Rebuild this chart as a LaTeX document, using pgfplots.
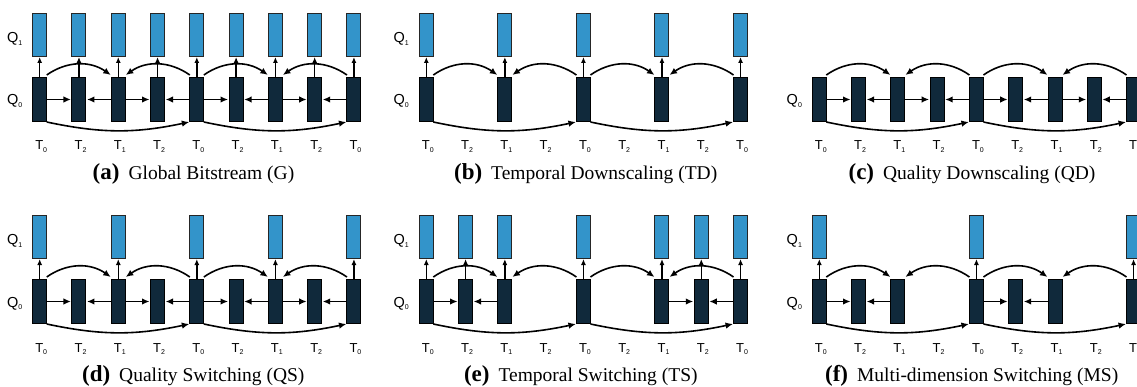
\documentclass[border=0pt]{standalone}
\usepackage{pgfplots}
\pgfplotsset{compat=1.18}
\usetikzlibrary{arrows.meta}
\usepackage{fontspec}
\setmainfont{Liberation Serif}
\newfontfamily\arial{Liberation Sans}
\definecolor{qone}{RGB}{51,148,202}
\definecolor{qzero}{RGB}{16,41,59}

\pgfdeclareplotmark{barQ0}{\pgfpathrectangle{\pgfqpoint{-7pt}{-22pt}}{\pgfqpoint{14pt}{44pt}}\pgfusepathqfillstroke}
\pgfdeclareplotmark{barQ1}{\pgfpathrectangle{\pgfqpoint{-7pt}{-21.5pt}}{\pgfqpoint{14pt}{43pt}}\pgfusepathqfillstroke}

\tikzset{arr/.style={line width=1.6pt, -{Latex[length=7.5pt,width=6.5pt]}}}

\newcommand\rarr[2]{\draw[arr] ([xshift=7pt]axis cs:#1,0) -- ([xshift=-8pt]axis cs:#2,0);}
\newcommand\larr[2]{\draw[arr] ([xshift=-7pt]axis cs:#1,0) -- ([xshift=8pt]axis cs:#2,0);}
\newcommand\uarcR[2]{\draw[arr] ([xshift=7pt,yshift=24.5pt]axis cs:#1,0) to[out=35,in=145] ([xshift=-7.5pt,yshift=24.5pt]axis cs:#2,0);}
\newcommand\uarcL[2]{\draw[arr] ([xshift=-7pt,yshift=24.5pt]axis cs:#1,0) to[out=145,in=35] ([xshift=7.5pt,yshift=24.5pt]axis cs:#2,0);}
\newcommand\darc[2]{\draw[arr] ([xshift=7pt,yshift=-22.5pt]axis cs:#1,0) to[out=-12,in=192] ([xshift=-7.5pt,yshift=-22.5pt]axis cs:#2,0);}
\newcommand\sub[1]{\raisebox{-2.4pt}{\fontsize{7}{7}\selectfont #1}}
\newcommand\Tlab[2]{\node[anchor=base,font=\arial\fontsize{13}{13}\selectfont] at ([xshift=1.5pt,yshift=-50.5pt]axis cs:#1,0) {T\sub{#2}};}
\newcommand\Tall{\Tlab{0}{0}\Tlab{1}{2}\Tlab{2}{1}\Tlab{3}{2}\Tlab{4}{0}\Tlab{5}{2}\Tlab{6}{1}\Tlab{7}{2}\Tlab{8}{0}}
\newcommand\Qzero{\node[anchor=base,font=\arial\fontsize{14.5}{14.5}\selectfont] at ([xshift=-25pt,yshift=-5.5pt]axis cs:0,0) {Q\sub{0}};}
\newcommand\Qone{\node[anchor=base,font=\arial\fontsize{14.5}{14.5}\selectfont] at ([xshift=-25pt,yshift=56.5pt]axis cs:0,0) {Q\sub{1}};}
\newcommand\arcs{\uarcR{0}{2}\uarcL{4}{2}\uarcR{4}{6}\uarcL{8}{6}\darc{0}{4}\darc{4}{8}}
\newcommand\capt[2]{{\fontsize{23}{26}\selectfont\bfseries (#1)}\hspace{9pt}{\fontsize{19.5}{22}\selectfont #2}}

\pgfplotsset{panel/.style={x=39.28pt, y=1pt, xmin=-1, xmax=9, ymin=-70, ymax=100,
  hide axis, clip=false, anchor=origin},
  qzerobars/.style={only marks, mark=barQ0, mark options={fill=qzero, draw=black, line width=1pt}},
  qonebars/.style={only marks, mark=barQ1, mark options={fill=qone, draw=black!85, line width=1pt}},
  uparr/.style={line width=1.5pt, -{Latex[length=6pt,width=5pt]}, quiver={u=0, v=20.5}}}

\begin{document}
\begin{tikzpicture}[x=1pt,y=1pt]
\useasboundingbox (0pt,0pt) rectangle (1137pt,386pt);
\clip (0pt,0pt) rectangle (1137pt,386pt);

% (a) Global Bitstream
\begin{axis}[panel, at={(39.7pt,286.5pt)}]
\addplot[uparr] coordinates {(0,22) (1,22) (2,22) (3,22) (4,22) (5,22) (6,22) (7,22) (8,22)};
\rarr{0}{1}\larr{2}{1}\rarr{2}{3}\larr{4}{3}\rarr{4}{5}\larr{6}{5}\rarr{6}{7}\larr{8}{7}
\arcs
\addplot[qzerobars] coordinates {(0,0) (1,0) (2,0) (3,0) (4,0) (5,0) (6,0) (7,0) (8,0)};
\addplot[qonebars] coordinates {(0,64) (1,64) (2,64) (3,64) (4,64) (5,64) (6,64) (7,64) (8,64)};
\Tall\Qzero\Qone
\end{axis}

% (b) Temporal Downscaling
\begin{axis}[panel, at={(426.3pt,286.5pt)}]
\addplot[uparr] coordinates {(0,22) (2,22) (4,22) (6,22) (8,22)};
\arcs
\addplot[qzerobars] coordinates {(0,0) (2,0) (4,0) (6,0) (8,0)};
\addplot[qonebars] coordinates {(0,64) (2,64) (4,64) (6,64) (8,64)};
\Tall\Qzero\Qone
\end{axis}

% (c) Quality Downscaling
\begin{axis}[panel, at={(819.3pt,286.5pt)}]
\rarr{0}{1}\larr{2}{1}\rarr{2}{3}\larr{4}{3}\rarr{4}{5}\larr{6}{5}\rarr{6}{7}\larr{8}{7}
\arcs
\addplot[qzerobars] coordinates {(0,0) (1,0) (2,0) (3,0) (4,0) (5,0) (6,0) (7,0) (8,0)};
\Tall\Qzero
\end{axis}

% (d) Quality Switching
\begin{axis}[panel, at={(39.7pt,84.5pt)}]
\addplot[uparr] coordinates {(0,22) (2,22) (4,22) (6,22) (8,22)};
\rarr{0}{1}\larr{2}{1}\rarr{2}{3}\larr{4}{3}\rarr{4}{5}\larr{6}{5}\rarr{6}{7}\larr{8}{7}
\arcs
\addplot[qzerobars] coordinates {(0,0) (1,0) (2,0) (3,0) (4,0) (5,0) (6,0) (7,0) (8,0)};
\addplot[qonebars] coordinates {(0,64) (2,64) (4,64) (6,64) (8,64)};
\Tall\Qzero\Qone
\end{axis}

% (e) Temporal Switching
\begin{axis}[panel, at={(426.3pt,84.5pt)}]
\addplot[uparr] coordinates {(0,22) (1,22) (2,22) (4,22) (6,22) (7,22) (8,22)};
\rarr{0}{1}\larr{2}{1}\rarr{6}{7}\larr{8}{7}
\arcs
\addplot[qzerobars] coordinates {(0,0) (1,0) (2,0) (4,0) (6,0) (7,0) (8,0)};
\addplot[qonebars] coordinates {(0,64) (1,64) (2,64) (4,64) (6,64) (7,64) (8,64)};
\Tall\Qzero\Qone
\end{axis}

% (f) Multi-dimension Switching
\begin{axis}[panel, at={(819.3pt,84.5pt)}]
\addplot[uparr] coordinates {(0,22) (4,22) (8,22)};
\rarr{0}{1}\larr{2}{1}\rarr{4}{5}\larr{6}{5}
\arcs
\addplot[qzerobars] coordinates {(0,0) (1,0) (2,0) (4,0) (5,0) (6,0) (8,0)};
\addplot[qonebars] coordinates {(0,64) (4,64) (8,64)};
\Tall\Qzero\Qone
\end{axis}

\node[anchor=base] at (193.5pt,206pt) {\capt{a}{Global Bitstream (G)}};
\node[anchor=base] at (585.7pt,206pt) {\capt{b}{Temporal Downscaling (TD)}};
\node[anchor=base] at (972pt,206pt) {\capt{c}{Quality Downscaling (QD)}};
\node[anchor=base] at (193.3pt,4.5pt) {\capt{d}{Quality Switching (QS)}};
\node[anchor=base] at (580.8pt,4.5pt) {\capt{e}{Temporal Switching (TS)}};
\node[anchor=base] at (971.7pt,4.5pt) {\capt{f}{Multi-dimension Switching (MS)}};
\end{tikzpicture}
\end{document}
